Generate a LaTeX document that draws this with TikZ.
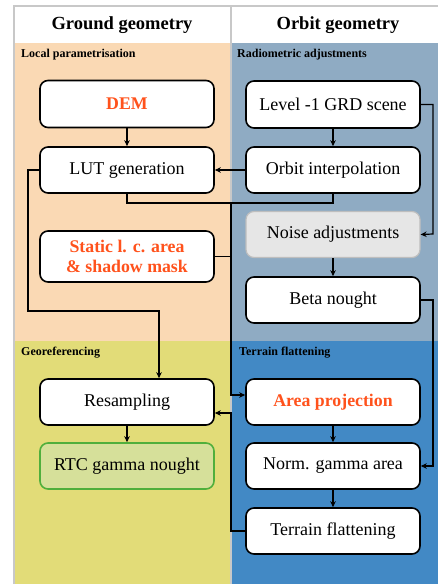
\documentclass[tikz,border=0pt]{standalone}
\usepackage{fontspec}
\setmainfont{Liberation Serif}
\usetikzlibrary{arrows.meta}
\definecolor{panorange}{RGB}{250,217,180}
\definecolor{pangray}{RGB}{143,171,195}
\definecolor{panyellow}{RGB}{226,220,120}
\definecolor{panblue}{RGB}{66,137,197}
\definecolor{hiorange}{RGB}{255,82,28}
\definecolor{framegray}{RGB}{200,200,200}
\definecolor{noisefill}{RGB}{230,230,230}
\definecolor{noiseline}{RGB}{190,190,190}
\definecolor{rtcfill}{RGB}{214,224,154}
\definecolor{rtcline}{RGB}{80,175,60}
\tikzset{
  box/.style={draw=black, line width=1.6pt, fill=white, rounded corners=8pt,
    minimum width=174pt, minimum height=46pt, align=center, inner sep=0pt,
    font=\fontsize{18}{19.5}\selectfont},
  hot/.style={text=hiorange, font=\fontsize{17.8}{19.5}\selectfont\bfseries},
  panlabel/.style={anchor=west, font=\fontsize{12}{13}\selectfont\bfseries, inner sep=0pt},
  head/.style={font=\fontsize{18.5}{21}\selectfont\bfseries, inner sep=0pt},
  conn/.style={draw=black, line width=1.2pt},
  arr/.style={conn, -{Stealth[length=6pt,width=5.5pt]}},
}
\begin{document}
\begin{tikzpicture}[x=1pt,y=-1pt]
\useasboundingbox (0,0) rectangle (438,584);
% panels
\fill[white] (14,6) rectangle (440,43);
\fill[panorange] (14,43) rectangle (231,341);
\fill[pangray] (231,43) rectangle (440,341);
\fill[panyellow] (14,341) rectangle (231,590);
\fill[panblue] (231,341) rectangle (440,590);
\draw[framegray, line width=1.2pt] (14,590) -- (14,6) -- (440,6);
\draw[framegray, line width=1.2pt] (231,6) -- (231,590);
% headers
\node[head] (hg) at (122,25) {Ground geometry};
\node[head] (ho) at (338,25) {Orbit geometry};
\node[panlabel] (l1) at (21,55) {Local parametrisation};
\node[panlabel] (l2) at (237,55) {Radiometric adjustments};
\node[panlabel] (l3) at (21,353) {Georeferencing};
\node[panlabel] (l4) at (239,353) {Terrain flattening};
% left column
\node[box, hot, minimum height=47pt] (dem) at (127,104) {DEM};
\node[box] (lut) at (127,170) {LUT generation};
\node[box, hot, minimum height=51pt] (stat) at (127,256.5) {Static l. c. area\\\& shadow mask};
\node[box] (res) at (127,402) {Resampling};
\node[box, draw=rtcline, fill=rtcfill] (rtc) at (127,466) {RTC gamma nought};
% right column
\node[box, minimum height=47pt] (lev) at (333,104.5) {Level -1 GRD scene};
\node[box] (orb) at (333,170) {Orbit interpolation};
\node[box, draw=noiseline, fill=noisefill, line width=1.2pt] (noi) at (333,234.5) {Noise adjustments};
\node[box] (bet) at (333,300) {Beta nought};
\node[box, hot] (are) at (333,402) {Area projection};
\node[box] (nor) at (333,466) {Norm. gamma area};
\node[box] (ter) at (333,531) {Terrain flattening};
% junctions
\coordinate (j1) at (231,203);
\coordinate (j2) at (28,311);
\coordinate (j3) at (433,234);
\coordinate (j4) at (433,466);
% connectors
\draw[arr] (dem) -- (lut);
\draw[arr] (lev) -- (orb);
\draw[arr] (orb) -- (lut);
\draw[conn] (lut.south) |- (j1);
\draw[conn] (orb.south) |- (j1);
\draw[arr] (j1) |- ([yshift=7pt]are.west);
\draw[conn] (stat.east) -- (stat.east -| j1);
\draw[arr] (ter.west) -| ([yshift=-11pt]res.east -| j1) -- ([yshift=-11pt]res.east);
\draw[arr] (lut.west) -| (j2) -| ([xshift=32pt]res.north);
\draw[arr] (lev.east) -| (j3) -- (noi.east);
\draw[arr] (noi) -- (bet);
\draw[arr] (bet.east) -| (j4) -- (nor.east);
\draw[arr] (are) -- (nor);
\draw[arr] (nor) -- (ter);
\draw[arr] (res) -- (rtc);
\end{tikzpicture}
\end{document}
